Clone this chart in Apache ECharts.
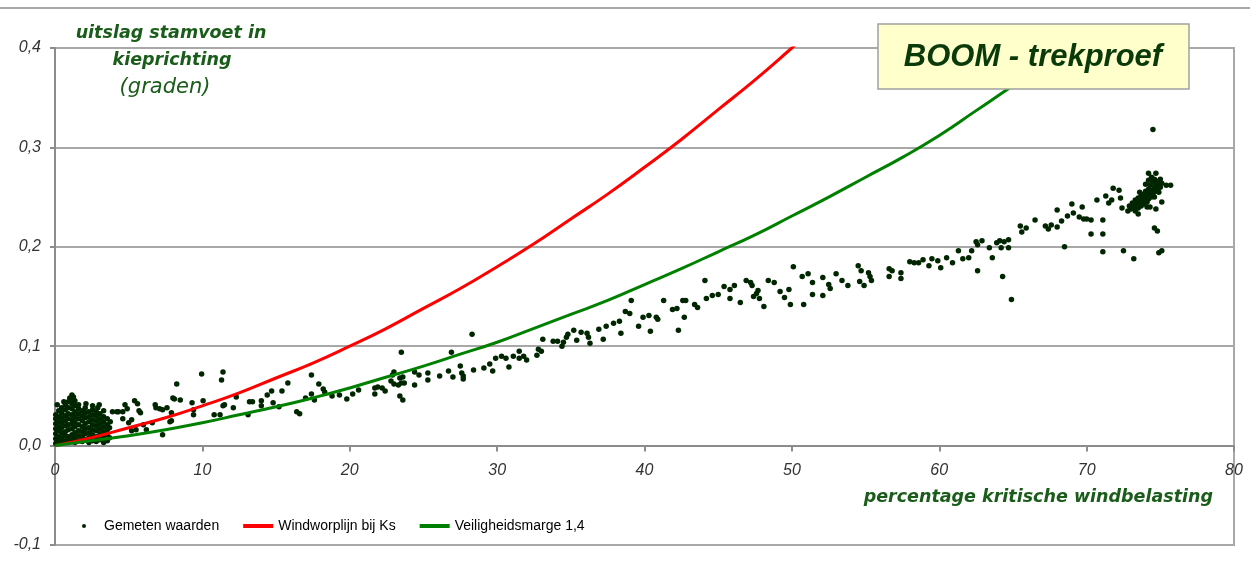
<!DOCTYPE html>
<html>
<head>
<meta charset="utf-8">
<title>BOOM - trekproef</title>
<script src="https://cdn.jsdelivr.net/npm/echarts@6/dist/echarts.min.js"></script>
<style>
html,body{margin:0;padding:0;background:#fff;}
#main{width:1250px;height:564px;}
</style>
</head>
<body>
<div id="main"></div>
<script>
// gemeten punten: [percentage kritische windbelasting, uitslag (graden)]
// begin van de proef, dichte wolk bij 0-4 %
var puntenStart = [
	[0.05,0.002],[0.05,0.007],[0.05,0.012],[0.05,0.017],[0.05,0.022],[0.05,0.027],[0.05,0.031],
	[0.25,0.004],[0.25,0.009],[0.25,0.015],[0.25,0.019],[0.25,0.024],[0.25,0.029],[0.25,0.035],
	[0.45,0.003],[0.45,0.008],[0.45,0.013],[0.45,0.018],[0.45,0.023],[0.45,0.028],[0.45,0.033],[0.45,0.038],
	[0.7,0.005],[0.7,0.010],[0.7,0.014],[0.7,0.020],[0.7,0.025],[0.7,0.030],[0.7,0.036],[0.7,0.041],
	[0.9,0.004],[0.9,0.009],[0.9,0.016],[0.9,0.021],[0.9,0.027],[0.9,0.032],[0.9,0.038],[0.9,0.044],
	[1.15,0.006],[1.15,0.011],[1.15,0.017],[1.15,0.022],[1.15,0.026],[1.15,0.031],[1.15,0.037],[1.15,0.042],[1.15,0.047],[1.15,0.051],
	[1.35,0.003],[1.35,0.008],[1.35,0.013],[1.35,0.019],[1.35,0.024],[1.35,0.029],[1.35,0.034],[1.35,0.040],[1.35,0.045],
	[1.6,0.005],[1.6,0.010],[1.6,0.015],[1.6,0.021],[1.6,0.027],[1.6,0.032],[1.6,0.037],[1.6,0.041],
	[1.85,0.004],[1.85,0.009],[1.85,0.014],[1.85,0.019],[1.85,0.025],[1.85,0.030],[1.85,0.035],
	[2.05,0.006],[2.05,0.012],[2.05,0.017],[2.05,0.022],[2.05,0.028],[2.05,0.033],[2.05,0.038],
	[2.3,0.003],[2.3,0.008],[2.3,0.013],[2.3,0.018],[2.3,0.024],[2.3,0.029],[2.3,0.034],
	[2.55,0.005],[2.55,0.011],[2.55,0.016],[2.55,0.021],[2.55,0.026],[2.55,0.031],[2.55,0.036],[2.55,0.040],
	[2.8,0.004],[2.8,0.009],[2.8,0.015],[2.8,0.020],[2.8,0.025],[2.8,0.030],[2.8,0.034],
	[3.05,0.006],[3.05,0.012],[3.05,0.017],[3.05,0.022],[3.05,0.027],[3.05,0.032],
	[3.3,0.003],[3.3,0.009],[3.3,0.014],[3.3,0.019],[3.3,0.024],[3.3,0.029],[3.3,0.035],
	[3.55,0.005],[3.55,0.011],[3.55,0.016],[3.55,0.021],[3.55,0.027],
	[0.15,0.041],[1.0,0.048],[1.25,0.049],[0.6,0.044],[2.1,0.042],[2.9,0.038],[3.7,0.018],[3.7,0.008],[3.75,0.024],[3.0,0.041]
];

// verloop tussen 4 en 74 %
var puntenMidden = [
	[4.2,0.034],[3.9,0.034],[4.3,0.034],[4.6,0.034],[4.6,0.027],[4.75,0.041],[4.9,0.037],[5.0,0.023],[5.2,0.026],[5.2,0.015],
	[5.4,0.045],[5.5,0.016],[5.6,0.042],[5.7,0.035],[5.8,0.033],[6.0,0.021],[6.2,0.016],[6.6,0.023],[6.8,0.041],[6.85,0.038],
	[7.1,0.037],[7.3,0.036],[7.3,0.011],[7.6,0.038],[7.8,0.024],[7.9,0.033],[7.9,0.025],[8.0,0.048],[8.1,0.047],[8.26,0.062],
	[8.5,0.046],[9.3,0.043],[9.4,0.036],[9.4,0.031],[9.95,0.072],[10.05,0.045],[10.8,0.031],[11.2,0.031],[11.3,0.066],[11.4,0.074],
	[11.4,0.040],[11.5,0.041],[12.1,0.038],[12.3,0.049],[13.1,0.031],[13.2,0.044],[13.4,0.044],[14.0,0.045],[14.0,0.040],[14.4,0.051],
	[14.7,0.055],[14.8,0.043],[15.2,0.039],[15.4,0.055],[15.8,0.063],[16.4,0.034],[16.6,0.032],[17.0,0.048],[17.4,0.071],[17.4,0.052],
	[17.6,0.046],[17.9,0.062],[18.2,0.057],[18.3,0.054],[18.8,0.050],[19.3,0.051],[19.8,0.047],[20.2,0.052],[20.6,0.056],[21.7,0.058],
	[21.9,0.059],[22.2,0.058],[21.7,0.052],[22.4,0.055],[22.9,0.071],[23.0,0.074],[22.8,0.065],[23.0,0.062],[23.3,0.061],[23.5,0.063],
	[23.7,0.063],[23.4,0.068],[23.6,0.069],[23.4,0.050],[23.6,0.046],[23.5,0.094],[24.4,0.074],[24.7,0.071],[24.4,0.061],[25.3,0.073],
	[25.3,0.066],[26.1,0.070],[26.7,0.075],[26.9,0.094],[27.0,0.069],[27.5,0.080],[27.6,0.073],[27.7,0.070],[27.7,0.067],[28.3,0.112],
	[28.4,0.076],[29.1,0.078],[29.5,0.082],[29.7,0.075],[29.9,0.088],[30.3,0.090],[30.6,0.088],[30.8,0.079],[31.1,0.090],[31.5,0.095],
	[31.5,0.088],[31.8,0.090],[32.0,0.086],[32.7,0.091],[32.8,0.097],[33.0,0.095],[33.1,0.107],[33.8,0.105],[34.1,0.105],[34.4,0.100],
	[34.5,0.104],[34.7,0.109],[34.8,0.112],[35.2,0.116],[35.7,0.114],[35.4,0.106],[36.1,0.113],[36.2,0.109],[36.3,0.103],[36.9,0.117],
	[37.2,0.107],[37.4,0.120],[37.9,0.123],[38.3,0.125],[38.4,0.113],[38.7,0.135],[39.0,0.133],[39.1,0.146],[39.6,0.120],[39.9,0.129],
	[40.3,0.131],[40.4,0.115],[40.8,0.129],[40.9,0.127],[41.3,0.146],[41.9,0.137],[42.2,0.138],[42.7,0.129],[42.3,0.116],[42.6,0.146],
	[42.8,0.146],[43.4,0.142],[43.6,0.139],[44.1,0.166],[44.2,0.148],[44.6,0.151],[45.0,0.152],[45.4,0.160],[45.8,0.157],[46.1,0.161],
	[45.8,0.148],[46.5,0.144],[46.9,0.166],[47.2,0.164],[47.3,0.161],[47.4,0.150],[47.6,0.153],[47.8,0.148],[47.7,0.156],[48.1,0.140],
	[48.4,0.166],[48.8,0.164],[49.2,0.155],[49.5,0.149],[49.8,0.157],[49.9,0.142],[50.1,0.180],[50.7,0.170],[51.1,0.173],[50.8,0.142],
	[51.4,0.164],[51.4,0.152],[52.1,0.151],[52.1,0.169],[52.5,0.162],[52.6,0.158],[53.0,0.173],[53.4,0.166],[53.8,0.161],[54.5,0.181],
	[54.7,0.176],[54.6,0.165],[54.9,0.161],[55.2,0.174],[55.3,0.170],[55.4,0.166],[56.6,0.178],[56.8,0.176],[56.6,0.170],[57.4,0.174],
	[57.4,0.168],[58.0,0.185],[58.3,0.184],[58.6,0.184],[58.9,0.187],[59.3,0.181],[59.5,0.188],[59.9,0.186],[60.1,0.179],[60.5,0.189],
	[60.9,0.184],[61.3,0.196],[61.6,0.188],[62.0,0.189],[62.2,0.196],[62.5,0.205],[62.6,0.202],[62.9,0.206],[62.6,0.176],[63.4,0.199],
	[63.6,0.189],[63.9,0.204],[64.1,0.206],[64.2,0.199],[64.4,0.205],[64.7,0.207],[64.7,0.199],[64.3,0.170],[64.9,0.147],[65.5,0.221],
	[65.6,0.215],[65.9,0.219],[66.5,0.227],[67.2,0.221],[67.4,0.218],[67.6,0.222],[68.0,0.220],[68.0,0.237],[68.3,0.226],[68.5,0.200],
	[68.7,0.231],[69.1,0.234],[69.0,0.243],[69.5,0.230],[69.8,0.228],[70.0,0.228],[70.3,0.227],[69.7,0.240],[70.3,0.213],[71.1,0.213],
	[71.1,0.195],[71.1,0.227],[70.7,0.247],[71.3,0.251],[71.5,0.244],[71.7,0.247],[71.8,0.259],[72.2,0.257],[72.3,0.249],[72.4,0.239],
	[72.5,0.196],[73.2,0.188],[73.5,0.233],[74.1,0.240]
];

// einde van de proef, wolk rond 73-75 %
var puntenEind = [
	[72.8,0.236],[72.9,0.241],[73.0,0.238],[73.1,0.244],[73.2,0.240],[73.3,0.247],[73.3,0.236],[73.4,0.243],[73.5,0.249],[73.5,0.239],
	[73.6,0.245],[73.7,0.251],[73.7,0.241],[73.8,0.247],[73.9,0.253],[73.9,0.243],[74.0,0.249],[74.0,0.256],[74.1,0.245],[74.1,0.252],
	[74.2,0.258],[74.2,0.248],[74.3,0.254],[74.3,0.262],[74.4,0.250],[74.4,0.257],[74.5,0.265],[74.5,0.253],[74.6,0.260],[74.6,0.268],
	[74.7,0.256],[74.7,0.263],[74.8,0.259],[74.8,0.266],[74.9,0.262],[74.9,0.255],[75.0,0.268],[75.0,0.260],[74.2,0.267],[74.4,0.270],
	[74.0,0.263],[73.6,0.255],[74.3,0.240],[74.6,0.250],[75.1,0.264],
	[74.5,0.318],[74.2,0.274],[74.7,0.274],[75.4,0.262],[75.7,0.262],[75.1,0.245],[74.7,0.238],[74.6,0.219],[74.8,0.216],[74.9,0.194],[75.1,0.196]
];

// windworplijn bij Ks (rood)
var windworpX = [0,2.5,5,7.5,10,12.5,15,17.5,20,22.5,25,27.5,30,32.5,35,37.5,40,42.5,45,47.5,50,51];
var windworpY = [0,0.008,0.018,0.028,0.040,0.053,0.068,0.083,0.100,0.118,0.138,0.158,0.180,0.203,0.228,0.253,0.280,0.308,0.338,0.368,0.400,0.413];

// veiligheidsmarge 1,4 (groen)
var margeX = [0,2.5,5,7.5,10,12.5,15,17.5,20,22.5,25,27.5,30,32.5,35,37.5,40,42.5,45,47.5,50,52.5,55,57.5,60,62.5,65,67.5,70];
var margeY = [0,0.005,0.010,0.016,0.023,0.031,0.039,0.048,0.058,0.069,0.080,0.092,0.104,0.118,0.132,0.146,0.162,0.178,0.195,0.212,0.231,0.250,0.270,0.290,0.312,0.337,0.362,0.386,0.410];

var groen = '#1a5c1a';

var zip = function(xs, ys){
	var out = [];
	for (var i = 0; i < xs.length; i++) {
		out.push([xs[i], ys[i]]);
	}
	return out;
}

var chart = echarts.init(document.getElementById('main'));

// x-as ligt op de nullijn: 0 op 4/5 van de hoogte van het plotvlak (48..545)
var plotTop = 48, plotBottom = 545;
var nulOffset = -(plotBottom - plotTop) * 0.1 / 0.5;

var option = {
	animation: false,
	grid: {
		left: 55, right: 16, top: plotTop, bottom: 564 - plotBottom,
		outerBoundsMode: 'none', containLabel: false,
		show: true, borderColor: '#a8a8a8', borderWidth: 2
	},
	legend: {
		left: 77, top: 514,
		itemWidth: 30, itemHeight: 4, itemGap: 24,
		textStyle: {fontSize: 14, fontFamily: 'Liberation Sans', color: '#000'},
		data: [
			{name: 'Gemeten waarden', icon: 'circle'},
			{name: 'Windworplijn bij Ks', icon: 'rect'},
			{name: 'Veiligheidsmarge 1,4', icon: 'rect'}
		]
	},
	xAxis: {
		type: 'value', min: 0, max: 80, interval: 10,
		position: 'bottom', offset: nulOffset,
		axisLine: {onZero: false, lineStyle: {color: '#8c8c8c', width: 2}},
		axisTick: {length: 6, lineStyle: {color: '#8c8c8c', width: 2}},
		axisLabel: {fontSize: 16, fontStyle: 'italic', fontFamily: 'Liberation Sans', color: '#333', margin: 17},
		splitLine: {show: false}
	},
	yAxis: {
		type: 'value', min: -0.1, max: 0.4, interval: 0.1,
		axisLine: {show: true, onZero: false, lineStyle: {color: '#8c8c8c', width: 2}},
		axisTick: {show: true, length: 5, lineStyle: {color: '#8c8c8c', width: 2}},
		axisLabel: {
			fontSize: 16, fontStyle: 'italic', fontFamily: 'Liberation Sans', color: '#333', margin: 14,
			formatter: function(v){ return v.toFixed(1).replace('.', ','); }
		},
		splitLine: {lineStyle: {color: '#a8a8a8', width: 2}}
	},
	graphic: [
		{type: 'line', z: 100, shape: {x1: 0, y1: 8, x2: 1250, y2: 8}, style: {stroke: '#a8a8a8', lineWidth: 2}},
		{type: 'text', z: 100, x: 171, y: 33, style: {text: 'uitslag stamvoet in', align: 'center', verticalAlign: 'middle',
			font: 'italic bold 17.5px "DejaVu Sans"', fill: groen}},
		{type: 'text', z: 100, x: 172, y: 60, style: {text: 'kieprichting', align: 'center', verticalAlign: 'middle',
			font: 'italic bold 17.5px "DejaVu Sans"', fill: groen}},
		{type: 'text', z: 100, x: 165, y: 88, style: {text: '(graden)', align: 'center', verticalAlign: 'middle',
			font: 'italic 21px "DejaVu Sans"', fill: groen}},
		{type: 'text', z: 100, x: 1213, y: 497, style: {text: 'percentage kritische windbelasting', align: 'right', verticalAlign: 'middle',
			font: 'italic bold 17.5px "DejaVu Sans"', fill: groen}},
		{type: 'rect', z: 100, shape: {x: 878, y: 24, width: 311, height: 65},
			style: {fill: '#ffffcc', stroke: '#a0a0a0', lineWidth: 1.5}},
		{type: 'text', z: 101, x: 1033, y: 57, style: {text: 'BOOM - trekproef', align: 'center', verticalAlign: 'middle',
			font: 'italic bold 31px "Liberation Sans"', fill: '#0a3a0a'}}
	],
	series: [
		{
			name: 'Gemeten waarden', type: 'scatter',
			symbol: 'circle', symbolSize: 5.5,
			itemStyle: {color: '#002600', opacity: 1},
			data: puntenStart.concat(puntenMidden, puntenEind)
		},
		{
			name: 'Windworplijn bij Ks', type: 'line',
			smooth: true, showSymbol: false, color: '#ff0000',
			lineStyle: {color: '#ff0000', width: 3},
			data: zip(windworpX, windworpY)
		},
		{
			name: 'Veiligheidsmarge 1,4', type: 'line',
			smooth: true, showSymbol: false, color: '#008000',
			lineStyle: {color: '#008000', width: 3},
			data: zip(margeX, margeY)
		}
	]
};

chart.setOption(option);
</script>
</body>
</html>
